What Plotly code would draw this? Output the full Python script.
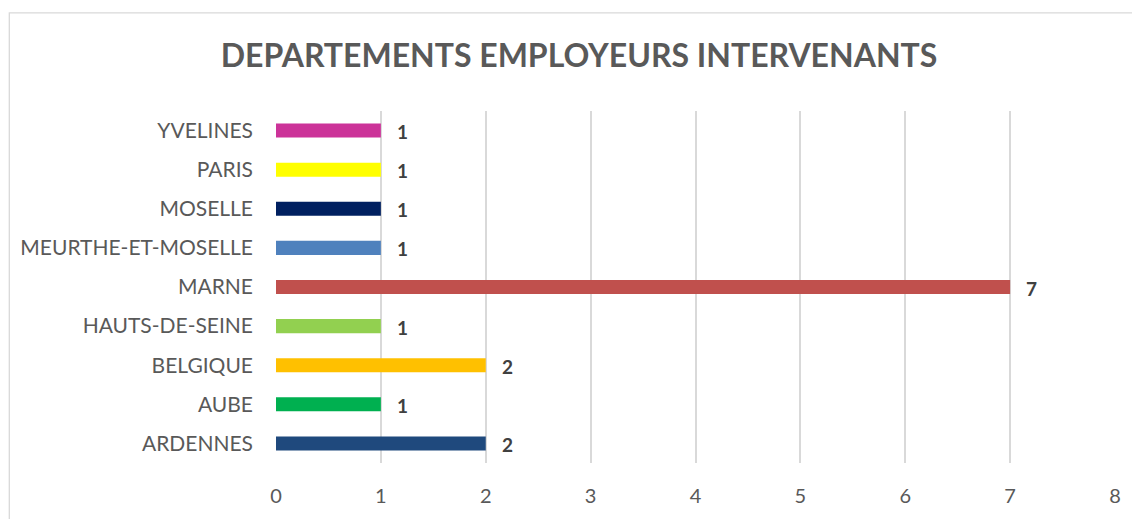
import plotly.graph_objects as go

categories = ["ARDENNES", "AUBE", "BELGIQUE", "HAUTS-DE-SEINE", "MARNE",
              "MEURTHE-ET-MOSELLE", "MOSELLE", "PARIS", "YVELINES"]
values = [2, 1, 2, 1, 7, 1, 1, 1, 1]
colors = ["#1F497D", "#00B050", "#FFC000", "#92D050", "#C0504D",
          "#4F81BD", "#002060", "#FFFF00", "#CC3399"]
x_ticks = [0, 1, 2, 3, 4, 5, 6, 7, 8]
title = "DEPARTEMENTS EMPLOYEURS INTERVENANTS"

FONT = "Lato, Carlito, Calibri, 'Open Sans', sans-serif"

W, H = 1132, 511
L, R, T, B = 267, 25, 103, 53
PW, PH = W - L - R, H - T - B

fig = go.Figure()
fig.add_trace(go.Bar(
    y=categories, x=values, orientation="h",
    marker=dict(color=colors, line=dict(width=0)),
    hoverinfo="x+y",
))

for c, v in zip(categories, values):
    fig.add_annotation(x=v, y=c, text=f"<b>{v}</b>", showarrow=False,
                       xanchor="left", xshift=14, yshift=-1,
                       font=dict(family=FONT, size=19, color="#404040"))

fig.update_layout(
    width=W, height=H,
    margin=dict(l=L, r=R, t=T, b=B),
    paper_bgcolor="white", plot_bgcolor="white",
    bargap=0.64,
    showlegend=False,
    title=dict(text=f"<b>{title}</b>", x=571 / W, xanchor="center",
               y=1 - 48 / H, yanchor="middle",
               font=dict(family=FONT, size=32, color="#595959")),
    xaxis=dict(range=[0, 8], tickvals=x_ticks, showgrid=True,
               gridcolor="#D9D9D9", gridwidth=1.5, zeroline=False,
               showline=False, ticks="",
               tickfont=dict(family=FONT, size=20, color="#595959"),
               ticklabelstandoff=19, fixedrange=True),
    yaxis=dict(categoryorder="array", categoryarray=categories,
               showgrid=False, zeroline=False, showline=False, ticks="",
               tickfont=dict(family=FONT, size=21, color="#595959"),
               ticklabelstandoff=22, fixedrange=True),
    shapes=[dict(type="rect", xref="paper", yref="paper",
                 x0=(0 - L) / PW, x1=1.2, y0=-0.4, y1=(PH + T - 4) / PH,
                 line=dict(color="#D9D9D9", width=1.3), fillcolor="rgba(0,0,0,0)",
                 layer="below")],
)

fig.write_html("out.html")
